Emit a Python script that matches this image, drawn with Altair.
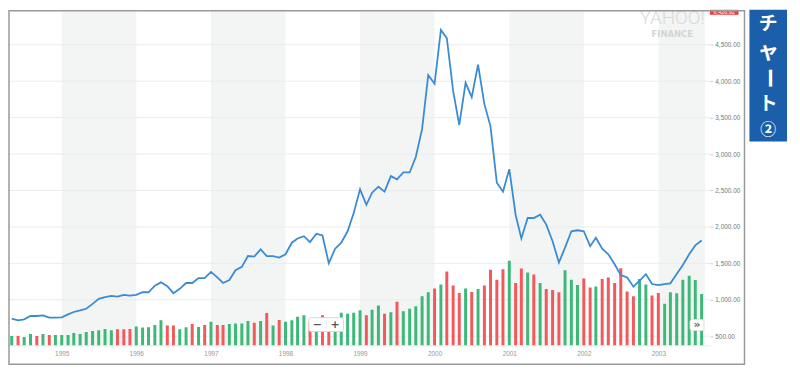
import altair as alt
import pandas as pd

# ---------------- data ----------------
start_month = "1994-05-01"
n_months = 112

price = [740, 717, 731, 777, 777, 785, 754, 754,
         758, 799, 832, 853, 876, 944, 1012, 1035, 1053, 1043, 1067, 1057,
         1067, 1103, 1103, 1193, 1239, 1185, 1090, 1150, 1230, 1230, 1297, 1297,
         1383, 1307, 1230, 1270, 1406, 1451, 1600, 1592, 1692, 1600, 1600, 1579,
         1624, 1783, 1841, 1872, 1791, 1905, 1882, 1501, 1701, 1783, 1940, 2190,
         2516, 2303, 2470, 2552, 2484, 2697, 2652, 2747, 2747, 2959, 3345, 4083,
         3965, 4704, 4590, 3866, 3399, 3978, 3780, 4228, 3685, 3380, 2606, 2484,
         2792, 2167, 1841, 2122, 2122, 2167, 2031, 1804, 1511, 1715, 1940, 1954,
         1940, 1736, 1851, 1701, 1624, 1488, 1338, 1307, 1179, 1261, 1352, 1216,
         1202, 1216, 1226, 1352, 1478, 1624, 1746, 1814]

volume = [4.8, 4.8, 4.3, 5.7, 4.8, 5.7, 5.2, 5.2,
          5.2, 5.2, 6.3, 5.8, 6.8, 7.3, 7.7, 8.3, 7.7, 8.2, 8.2, 8.3,
          9.5, 9.0, 9.2, 10.3, 12.7, 10.0, 10.0, 8.2, 9.2, 10.8, 9.3, 10.3,
          12.0, 10.3, 10.3, 10.8, 11.0, 11.0, 12.3, 11.5, 12.3, 16.3, 10.0, 12.8,
          12.0, 12.7, 14.5, 15.2, 12.0, 13.8, 15.2, 13.8, 13.8, 16.5, 16.0, 16.5,
          17.7, 15.2, 18.0, 20.2, 16.0, 16.8, 22.0, 17.2, 18.5, 19.8, 24.8, 26.8,
          28.8, 30.7, 37.3, 30.2, 26.5, 28.8, 27.0, 28.5, 30.2, 38.2, 33.2, 38.5,
          42.8, 31.5, 38.8, 36.8, 35.8, 31.5, 28.5, 28.0, 26.8, 38.0, 33.2, 30.5,
          33.8, 29.3, 29.8, 33.5, 34.3, 31.5, 39.0, 27.2, 24.8, 33.5, 30.7, 25.2,
          26.5, 21.0, 26.8, 26.3, 33.2, 35.2, 33.0, 26.0]

direction_codes = ("GRGGRGRG" + "GGGGGGGGGRRR" + "GGGGGRRGGRGR" + "GRRGGGGRGRGR"
                   + "GGGGRGRRGGGG" + "GRGGRGRGGGGG" + "RGRRRGRGRRRR" + "GRRGRGRRRGGG"
                   + "RRGRRRRRRGGR" + "RGGGGGGG")
direction = ["up" if c == "G" else "down" for c in direction_codes]

band_years = [1995, 1997, 1999, 2001, 2003]
band_end_last = "2003-08-17"
label_years = list(range(1995, 2004))
price_ticks = [500, 1000, 1500, 2000, 2500, 3000, 3500, 4000, 4500]

# ---------------- tables ----------------
months = pd.date_range(start_month, periods=n_months, freq="MS")
df = pd.DataFrame({"date": months, "price": price, "volume": volume, "dir": direction})

bands = pd.DataFrame({
    "start": [pd.Timestamp(f"{y}-01-01") for y in band_years],
    "end": [pd.Timestamp(f"{y + 1}-01-01") if y != 2003 else pd.Timestamp(band_end_last)
            for y in band_years],
})
grid_df = pd.DataFrame({"v": price_ticks})

# ---------------- styles ----------------
W, H = 709, 339
GREEN, RED, BLUE = "#3db879", "#f2595b", "#3a8bd6"
FONT = "Liberation Sans"
CJK = "Noto Sans CJK JP"

xscale = alt.Scale(domain=[alt.DateTime(year=1994, month=5, date=7),
                           alt.DateTime(year=2003, month=8, date=17)])
xaxis = alt.Axis(values=[alt.DateTime(year=y, month=1, date=1) for y in label_years],
                 format="%Y", labelFontSize=6.5, labelColor="#999999", labelFont=FONT,
                 ticks=False, domain=True, domainColor="#e8e8e8", grid=False,
                 labelPadding=5, title=None)
X = lambda f: alt.X(f, scale=xscale, axis=xaxis)

price_scale = alt.Scale(domain=[373.6, 4979.6], nice=False, zero=False)
yaxis = alt.Axis(orient="right", values=price_ticks, format=",.2f", grid=False,
                 domain=False, ticks=True, tickSize=3, tickColor="#cccccc",
                 labelFontSize=6.5, labelColor="#777777", labelFont=FONT,
                 labelPadding=2, title=None)

band_layer = alt.Chart(bands).mark_rect(color="#f3f4f4").encode(x=X("start:T"), x2="end:T")

grid_layer = alt.Chart(grid_df).mark_rule(color="#ececec", strokeWidth=1).encode(
    y=alt.Y("v:Q", scale=price_scale, axis=yaxis))

bar_layer = alt.Chart(df).mark_bar(size=3, clip=True).encode(
    x=X("date:T"),
    y=alt.Y("volume:Q", scale=alt.Scale(domain=[0, 169.5], nice=False, zero=False), axis=None),
    color=alt.Color("dir:N", scale=alt.Scale(domain=["up", "down"], range=[GREEN, RED]),
                    legend=None))

line_layer = alt.Chart(df).mark_line(color=BLUE, strokeWidth=1.8, clip=True).encode(
    x=X("date:T"), y=alt.Y("price:Q", scale=price_scale, axis=None))


def one():
    return alt.Chart(pd.DataFrame({"s": [""]}))


def txt(s, x, y, **kw):
    return alt.Chart(pd.DataFrame({"s": [s]})).mark_text(**kw).encode(
        text="s:N", x=alt.value(x), y=alt.value(y))


def box(x, x2, y, y2, **kw):
    return one().mark_rect(**kw).encode(x=alt.value(x), x2=alt.value(x2),
                                        y=alt.value(y), y2=alt.value(y2))


decor = [
    # Yahoo Finance watermark
    txt("YAHOO!", 671, 8.5, font="Roboto", fontWeight=300, fontSize=19, color="#d9d9d9",
        baseline="middle", align="center"),
    txt("FINANCE", 671, 24, font="DejaVu Sans", fontWeight="bold", fontSize=8.5,
        color="#d4d4d4", baseline="middle", align="center"),
    # last price tag
    box(709, 738, 0, 5, color="#ee3b3b"),
    txt("6,426.92", 723.5, 2.3, font=FONT, fontSize=5.5, color="white",
        baseline="middle", align="center"),
    # zoom control
    box(304, 339, 311, 325, fill="white", stroke="#d8d8d8", strokeWidth=1, cornerRadius=2),
    box(321.5, 322, 313, 323, color="#dddddd"),
    txt("−", 312.5, 318, font="DejaVu Sans", fontWeight="bold", fontSize=11,
        color="#555555", baseline="middle", align="center"),
    txt("+", 330.5, 318, font="DejaVu Sans", fontWeight="bold", fontSize=11,
        color="#555555", baseline="middle", align="center"),
    # scroll button
    box(689, 703, 313, 324, fill="white", stroke="#e2e2e2", strokeWidth=1, cornerRadius=2),
    txt("»", 696, 318, font="DejaVu Sans", fontWeight="bold", fontSize=11,
        color="#666666", baseline="middle", align="center"),
    # frame
    box(1, 744, 1, 358, fillOpacity=0, stroke="#9a9a9a", strokeWidth=1.5),
    # blue label box
    box(749, 787, 0, 133, color="#1b5fab"),
    txt("チ", 768, 14, font=CJK, fontWeight="bold", fontSize=19,
        color="white", baseline="middle", align="center"),
    txt("ャ", 768, 42, font=CJK, fontWeight="bold", fontSize=22,
        color="white", baseline="middle", align="center"),
    txt("ー", 768, 69, font=CJK, fontWeight="bold", fontSize=21,
        color="white", baseline="middle", align="center", angle=90),
    txt("ト", 768, 95, font=CJK, fontWeight="bold", fontSize=19,
        color="white", baseline="middle", align="center"),
    txt("②", 768, 121, font=CJK, fontWeight="bold", fontSize=16,
        color="white", baseline="middle", align="center"),
]

chart = alt.layer(band_layer, grid_layer, bar_layer, line_layer, *decor).resolve_scale(
    y="independent"
).properties(
    width=W, height=H,
    padding={"left": 0, "top": 0, "right": 83, "bottom": 21},
    autosize=alt.AutoSizeParams(type="none"),
).configure_view(stroke=None)

chart.save("out.html", embed_options={"renderer": "svg", "actions": False})
